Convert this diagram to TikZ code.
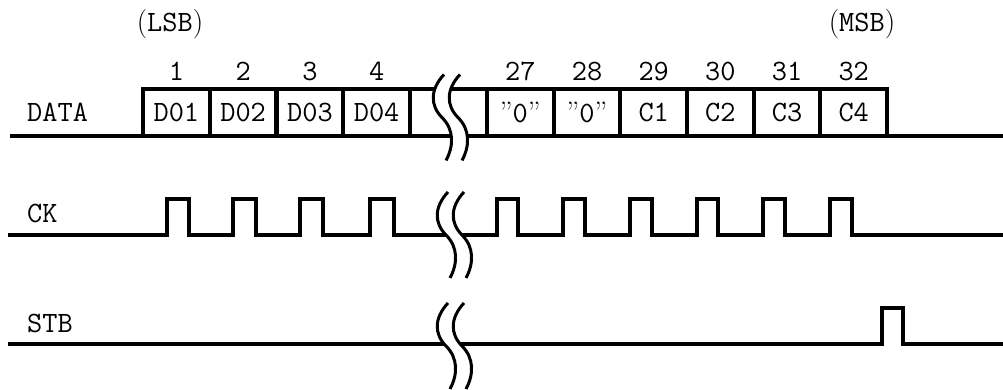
\documentclass[tikz,border=0pt]{standalone}
\usepackage{fontspec}
\begin{document}
\begin{tikzpicture}[x=1pt,y=-1pt,
  txt/.style={font=\ttfamily\fontsize{29.5}{30}\selectfont, inner sep=0pt},
  bx/.style={txt, draw, line width=4pt, minimum width=66.7pt, minimum height=47pt, line join=miter, outer sep=0pt},
  sig/.style={line width=4pt, line join=miter},
  wave/.style={line width=3pt},
  brk/.pic={
    \fill[white] (3,-43) .. controls (-11,-28) and (-11,-12) .. (1,0)
                 .. controls (13,12) and (13,28) .. (5,43)
                 -- (21,43) .. controls (29,28) and (29,12) .. (17,0)
                 .. controls (5,-12) and (5,-28) .. (19,-43) -- cycle;
    \draw[wave] (3,-43) .. controls (-11,-28) and (-11,-12) .. (1,0)
                 .. controls (13,12) and (13,28) .. (5,43);
    \draw[wave] (19,-43) .. controls (5,-28) and (5,-12) .. (17,0)
                 .. controls (29,12) and (29,28) .. (21,43);
  }]
\useasboundingbox (0,0) rectangle (1003,390);

% ---------- DATA ----------
\node[bx] (b1) at (176.4,112.5) {D01};
\node[bx] (b2) at (243.1,112.5) {D02};
\node[bx] (b3) at (309.9,112.5) {D03};
\node[bx] (b4) at (376.6,112.5) {D04};
\node[bx] (b27) at (520.3,112.5) {{\rmfamily ”}0{\rmfamily ”}};
\node[bx] (b28) at (587.0,112.5) {{\rmfamily ”}0{\rmfamily ”}};
\node[bx] (b29) at (653.7,112.5) {C1};
\node[bx] (b30) at (720.3,112.5) {C2};
\node[bx] (b31) at (787.0,112.5) {C3};
\node[bx] (b32) at (853.7,112.5) {C4};
\draw[sig] (b4.north east) -- (b27.north west);
\coordinate (dL) at (10,136);
\coordinate (dR) at (1003,136);
\draw[sig] (dL) -- (dR);
\pic at (441,117.5) {brk};

\node[txt, anchor=base west] (ldata) at (27,122) {DATA};
\node[txt, anchor=base] (n1) at (b1.north |- 0,81) {1};
\node[txt, anchor=base] (n2) at (b2.north |- 0,81) {2};
\node[txt, anchor=base] (n3) at (b3.north |- 0,81) {3};
\node[txt, anchor=base] (n4) at (b4.north |- 0,81) {4};
\node[txt, anchor=base] (n27) at (b27.north |- 0,81) {27};
\node[txt, anchor=base] (n28) at (b28.north |- 0,81) {28};
\node[txt, anchor=base] (n29) at (b29.north |- 0,81) {29};
\node[txt, anchor=base] (n30) at (b30.north |- 0,81) {30};
\node[txt, anchor=base] (n31) at (b31.north |- 0,81) {31};
\node[txt, anchor=base] (n32) at (b32.north |- 0,81) {32};
\node[txt, anchor=base] (lsb) at (170,32) {{\rmfamily(}LSB{\rmfamily)}};
\node[txt, anchor=base] (msb) at (862,32) {{\rmfamily(}MSB{\rmfamily)}};

% ---------- CK ----------
\node[txt, anchor=base west] (lck) at (27,222) {CK};
\draw[sig] (8,235)
  -- (166.5,235) -- (166.5,199) -- (188.5,199) -- (188.5,235)
  -- (232.5,235) -- (232.5,199) -- (255.5,199) -- (255.5,235)
  -- (300,235) -- (300,199) -- (323,199) -- (323,235)
  -- (370,235) -- (370,199) -- (394,199) -- (394,235)
  -- (497,235) -- (497,199) -- (518,199) -- (518,235)
  -- (563,235) -- (563,199) -- (585,199) -- (585,235)
  -- (630,235) -- (630,199) -- (652,199) -- (652,235)
  -- (697,235) -- (697,199) -- (718,199) -- (718,235)
  -- (763,235) -- (763,199) -- (785,199) -- (785,235)
  -- (830,235) -- (830,199) -- (852,199) -- (852,235)
  -- (1003,235);
\pic at (445,235) {brk};

% ---------- STB ----------
\node[txt, anchor=base west] (lstb) at (27,332) {STB};
\draw[sig] (8,344) -- (882,344) -- (882,308) -- (903,308) -- (903,344) -- (1003,344);
\pic at (445,346) {brk};
\end{tikzpicture}
\end{document}
